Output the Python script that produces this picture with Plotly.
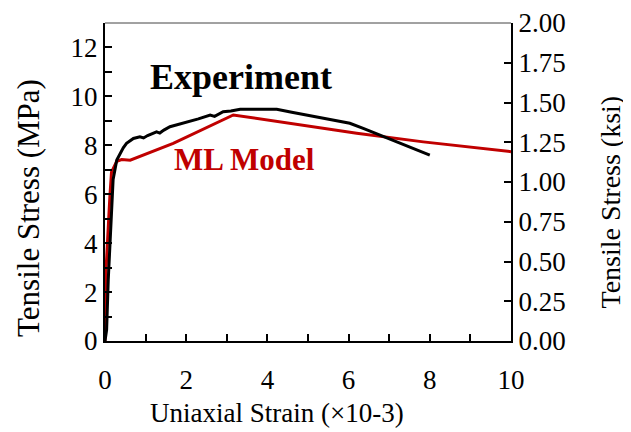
import plotly.graph_objects as go

exp_strain = [0.0, 0.04, 0.08, 0.14, 0.2, 0.29, 0.37, 0.45, 0.53, 0.7, 0.86, 0.95, 1.05, 1.27, 1.35, 1.45, 1.6, 1.8, 2.09, 2.3, 2.59, 2.7, 2.91, 3.1, 3.33, 3.8, 4.23, 4.6, 4.97, 5.5, 6.03, 6.36, 6.77, 7.4, 8.0]
exp_stress = [0.0, 0.45, 2.5, 4.5, 6.6, 7.4, 7.67, 7.9, 8.08, 8.28, 8.35, 8.3, 8.4, 8.55, 8.5, 8.62, 8.76, 8.85, 8.96, 9.08, 9.24, 9.18, 9.37, 9.4, 9.47, 9.48, 9.47, 9.35, 9.24, 9.08, 8.9, 8.69, 8.42, 8.0, 7.6]

ml_strain = [0.0, 0.025, 0.12, 0.16, 0.29, 0.41, 0.62, 0.94, 1.68, 3.16, 4.56, 6.2, 7.84, 10.0]
ml_stress = [0.0, 2.9, 5.9, 6.9, 7.35, 7.42, 7.39, 7.6, 8.08, 9.24, 8.9, 8.49, 8.14, 7.74]

x_ticks = [0, 2, 4, 6, 8, 10]
y_ticks = [0, 2, 4, 6, 8, 10, 12]
ksi_ticks = [0, 0.25, 0.5, 0.75, 1.0, 1.25, 1.5, 1.75, 2.0]

x_title = "Uniaxial Strain (×10-3)"
y_title = "Tensile Stress (MPa)"
y2_title = "Tensile Stress (ksi)"

FONT = "Liberation Serif"
TFS = 27

fig = go.Figure()
fig.add_trace(go.Scatter(x=ml_strain, y=ml_stress, mode="lines",
                         line=dict(color="#c00000", width=3), showlegend=False))
fig.add_trace(go.Scatter(x=exp_strain, y=exp_stress, mode="lines",
                         line=dict(color="black", width=3), showlegend=False))
fig.add_trace(go.Scatter(x=[0], y=[0], yaxis="y2", mode="markers",
                         marker=dict(opacity=0), showlegend=False, hoverinfo="skip"))

tick_common = dict(ticks="inside", ticklen=7, tickwidth=1.5, tickcolor="black",
                   showline=True, linecolor="black", linewidth=2,
                   showgrid=False, zeroline=False, automargin=False,
                   tickfont=dict(size=TFS, family=FONT, color="black"))
minor = dict(ticks="inside", dtick=1, ticklen=7, tickwidth=1.5, tickcolor="black")

fig.update_layout(
    width=623, height=424,
    margin=dict(l=97, r=120, t=15, b=91),
    plot_bgcolor="white", paper_bgcolor="white",
    font=dict(family=FONT, size=TFS, color="black"),
    xaxis=dict(range=[0, 10], tickvals=x_ticks, ticklabelstandoff=14, minor=minor, **tick_common),
    yaxis=dict(range=[0, 13], tickvals=y_ticks, minor=minor, **tick_common),
    yaxis2=dict(range=[0, 2], overlaying="y", side="right", tickvals=ksi_ticks,
                tickformat=".2f", **tick_common),
    shapes=[dict(type="line", xref="paper", yref="paper", x0=0, x1=1, y0=1, y1=1,
                 line=dict(color="#444444", width=1))],
    annotations=[
        dict(text="<b>Experiment</b>", x=0.106, y=10.8, xref="paper", yref="y",
             xanchor="left", yanchor="middle", showarrow=False,
             font=dict(size=36, color="black", family=FONT)),
        dict(text="<b>ML Model</b>", x=0.165, y=7.43, xref="paper", yref="y",
             xanchor="left", yanchor="middle", showarrow=False,
             font=dict(size=31, color="#c00000", family=FONT)),
        dict(text=x_title, x=0.424, y=-0.225, xref="paper", yref="paper",
             xanchor="center", yanchor="middle", showarrow=False,
             font=dict(size=27, family=FONT, color="black")),
        dict(text=y_title, x=-0.19, y=0.418, xref="paper", yref="paper", textangle=-90,
             xanchor="center", yanchor="middle", showarrow=False,
             font=dict(size=31, family=FONT, color="black")),
        dict(text=y2_title, x=1.245, y=0.437, xref="paper", yref="paper", textangle=-90,
             xanchor="center", yanchor="middle", showarrow=False,
             font=dict(size=28, family=FONT, color="black")),
    ],
)

fig.write_html("out.html")
